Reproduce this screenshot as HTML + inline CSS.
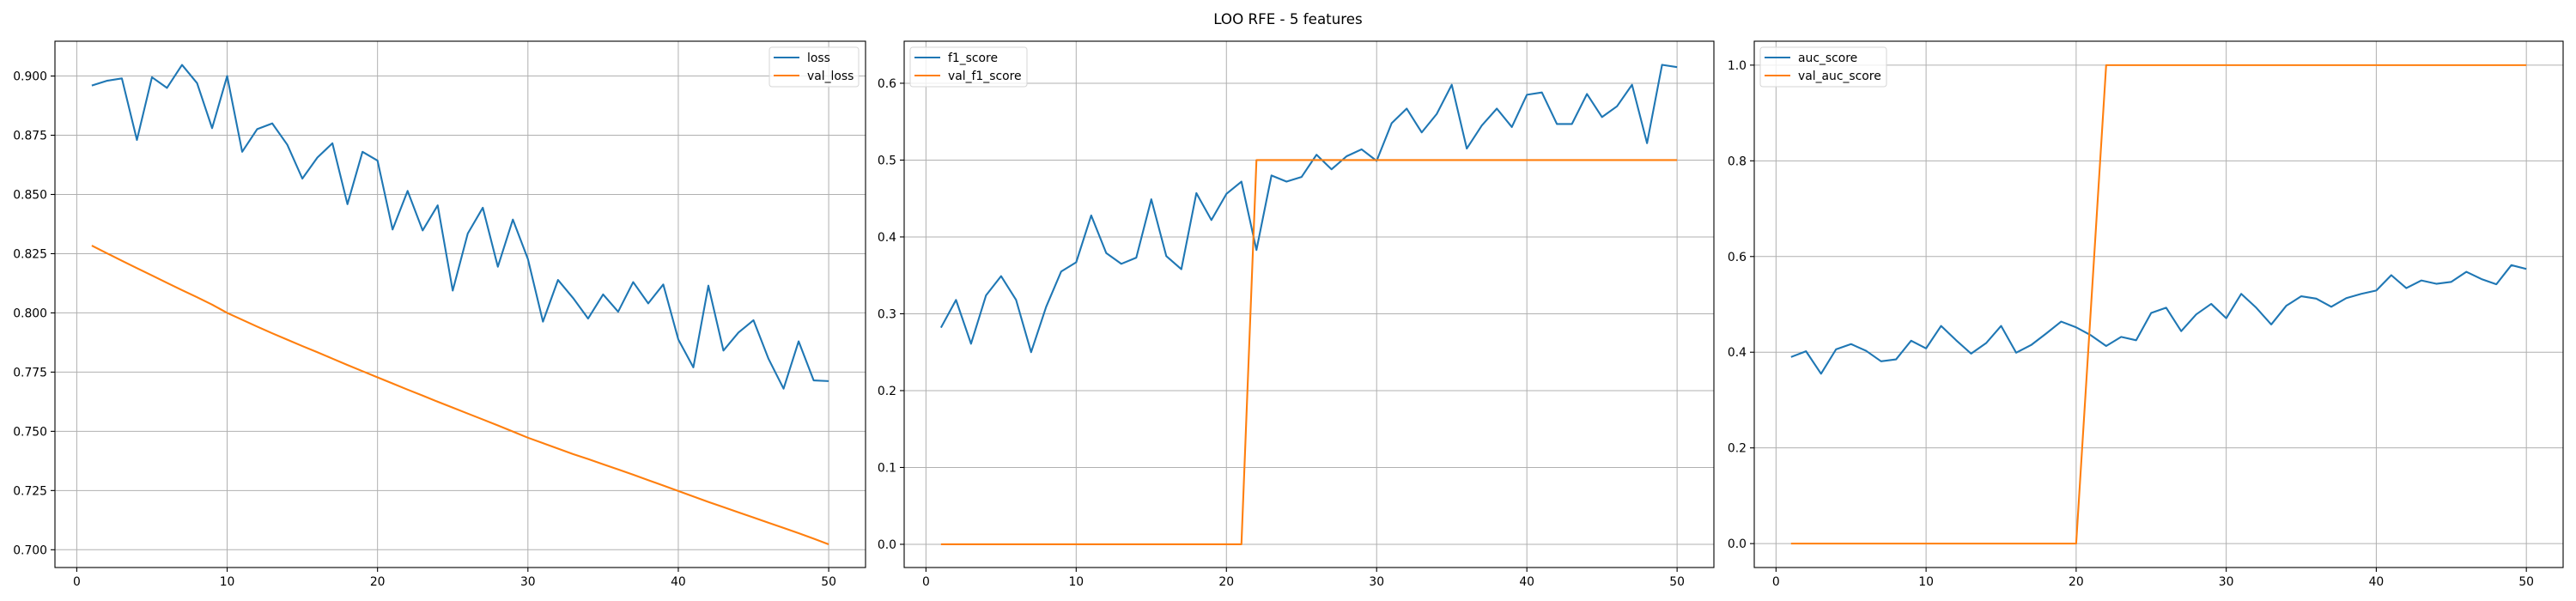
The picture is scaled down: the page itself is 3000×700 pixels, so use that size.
<!DOCTYPE html>
<html><head><meta charset="utf-8"><style>
html,body{margin:0;padding:0;background:#fff;}
svg{display:block;font-family:"DejaVu Sans","Liberation Sans",sans-serif;}
</style></head><body>
<svg id="fig" width="3000" height="700" viewBox="0 0 3000 700">
<rect width="3000" height="700" fill="#fff"/>
<text x="1500" y="28" font-size="16.7" text-anchor="middle">LOO RFE - 5 features</text>
</svg>
<script>
const epochs = Array.from({length:50},(_,i)=>i+1);
const lossValues = [0.896,0.898,0.899,0.873,0.8995,0.895,0.9047,0.897,0.878,0.900,0.868,0.8776,0.880,0.871,0.8567,0.8656,0.8716,0.8459,0.868,0.8643,0.8352,0.8515,0.8348,0.8454,0.8094,0.8335,0.8444,0.8195,0.8394,0.8227,0.7963,0.8139,0.8063,0.7976,0.8078,0.8005,0.813,0.804,0.812,0.7888,0.777,0.8115,0.7841,0.7917,0.7969,0.7806,0.768,0.788,0.7715,0.7712];
const valLossValues = [0.8284,0.8252,0.8220,0.8189,0.8158,0.8127,0.8096,0.8066,0.8035,0.8000,0.7971,0.7942,0.7914,0.7887,0.7860,0.7834,0.7807,0.7780,0.7754,0.7728,0.7702,0.7676,0.7651,0.7625,0.7600,0.7575,0.7550,0.7525,0.7499,0.7473,0.7450,0.7427,0.7404,0.7383,0.7361,0.7339,0.7317,0.7294,0.7271,0.7248,0.7225,0.7202,0.7180,0.7158,0.7136,0.7114,0.7092,0.7070,0.7047,0.7023];
const f1Values = [0.282,0.318,0.261,0.324,0.349,0.318,0.250,0.309,0.355,0.367,0.428,0.379,0.365,0.373,0.449,0.375,0.358,0.457,0.422,0.456,0.472,0.383,0.480,0.472,0.478,0.507,0.488,0.505,0.514,0.499,0.548,0.567,0.536,0.560,0.598,0.515,0.545,0.567,0.543,0.585,0.588,0.547,0.547,0.586,0.556,0.570,0.598,0.522,0.624,0.621];
const valF1Values = [0,0,0,0,0,0,0,0,0,0,0,0,0,0,0,0,0,0,0,0,0,0.5,0.5,0.5,0.5,0.5,0.5,0.5,0.5,0.5,0.5,0.5,0.5,0.5,0.5,0.5,0.5,0.5,0.5,0.5,0.5,0.5,0.5,0.5,0.5,0.5,0.5,0.5,0.5,0.5];
const aucValues = [0.390,0.402,0.355,0.406,0.417,0.403,0.381,0.385,0.424,0.408,0.455,0.425,0.397,0.419,0.455,0.399,0.415,0.439,0.464,0.452,0.435,0.413,0.432,0.425,0.482,0.493,0.444,0.479,0.501,0.471,0.522,0.493,0.458,0.497,0.517,0.512,0.495,0.513,0.522,0.529,0.561,0.534,0.550,0.543,0.547,0.568,0.553,0.542,0.582,0.574];
const valAucValues = [0,0,0,0,0,0,0,0,0,0,0,0,0,0,0,0,0,0,0,0,0.5,1,1,1,1,1,1,1,1,1,1,1,1,1,1,1,1,1,1,1,1,1,1,1,1,1,1,1,1,1];
const xTicks = [0,10,20,30,40,50];
const yTicksLoss = [0.700,0.725,0.750,0.775,0.800,0.825,0.850,0.875,0.900];
const yTicksF1 = [0.0,0.1,0.2,0.3,0.4,0.5,0.6];
const yTicksAuc = [0.0,0.2,0.4,0.6,0.8,1.0];

const NS="http://www.w3.org/2000/svg";
const fig=document.getElementById('fig');
function mk(tag,attrs,parent){const e=document.createElementNS(NS,tag);for(const k in attrs)e.setAttribute(k,attrs[k]);(parent||fig).appendChild(e);return e;}

function panel(name,box,ylim,yTicks,dec,series,labels,legendRight,lw){
  const [L,T,R,B]=box;
  const xmin=-1.45,xmax=52.45;
  const sx=v=>L+(v-xmin)/(xmax-xmin)*(R-L);
  const sy=v=>B-(v-ylim[0])/(ylim[1]-ylim[0])*(B-T);
  const g=mk('g',{});
  
  
  xTicks.forEach(t=>{
    const x=sx(t);
    const gl=mk('line',{x1:x,x2:x,y1:T,y2:B,stroke:'#b0b0b0','stroke-width':1},g);
    
    
    mk('line',{x1:x,x2:x,y1:B,y2:B+5,stroke:'#000','stroke-width':1.1},g);
    const tx=mk('text',{x:x,y:B+21,'font-size':13.9,'text-anchor':'middle'},g);
    tx.textContent=String(t);
    
    
  });
  yTicks.forEach(t=>{
    const y=sy(t);
    const gl=mk('line',{x1:L,x2:R,y1:y,y2:y,stroke:'#b0b0b0','stroke-width':1},g);
    
    
    mk('line',{x1:L-5,x2:L,y1:y,y2:y,stroke:'#000','stroke-width':1.1},g);
    const tx=mk('text',{x:L-9,y:y+5,'font-size':13.9,'text-anchor':'end'},g);
    tx.textContent=t.toFixed(dec);
    
    
  });
  const colors=['#1f77b4','#ff7f0e'];
  series.forEach((s,i)=>{
    const p=mk('polyline',{points:s.map((v,j)=>sx(epochs[j])+','+sy(v)).join(' '),fill:'none',stroke:colors[i],'stroke-width':2.1,'stroke-linejoin':'round'},g);
    
    
  });
  const fr=mk('rect',{x:L,y:T,width:R-L,height:B-T,fill:'none',stroke:'#000','stroke-width':1.1},g);
  
  
  const w=lw;
  const lx=legendRight?R-8-w:L+7;
  const lg=mk('g',{},g);
  
  
  mk('rect',{x:lx,y:55,width:w,height:46,rx:3,fill:'#fff','fill-opacity':0.8,stroke:'#d6d6d6'},lg);
  labels.forEach((lab,i)=>{
    const yy=67+i*21;
    mk('line',{x1:lx+5,x2:lx+35,y1:yy,y2:yy,stroke:colors[i],'stroke-width':2.1},lg);
    const t=mk('text',{x:lx+44,y:yy+5,'font-size':13.9},lg);
    t.textContent=lab;
    
    
  });
}
panel('loss',[64,48,1008,661],[0.6925,0.9147],yTicksLoss,3,[lossValues,valLossValues],['loss','val_loss'],true,104);
panel('f1',[1053,48,1996,661],[-0.0302,0.6547],yTicksF1,1,[f1Values,valF1Values],['f1_score','val_f1_score'],false,136);
panel('auc',[2043,48,2985,661],[-0.05,1.05],yTicksAuc,1,[aucValues,valAucValues],['auc_score','val_auc_score'],false,147);
</script>
</body></html>
